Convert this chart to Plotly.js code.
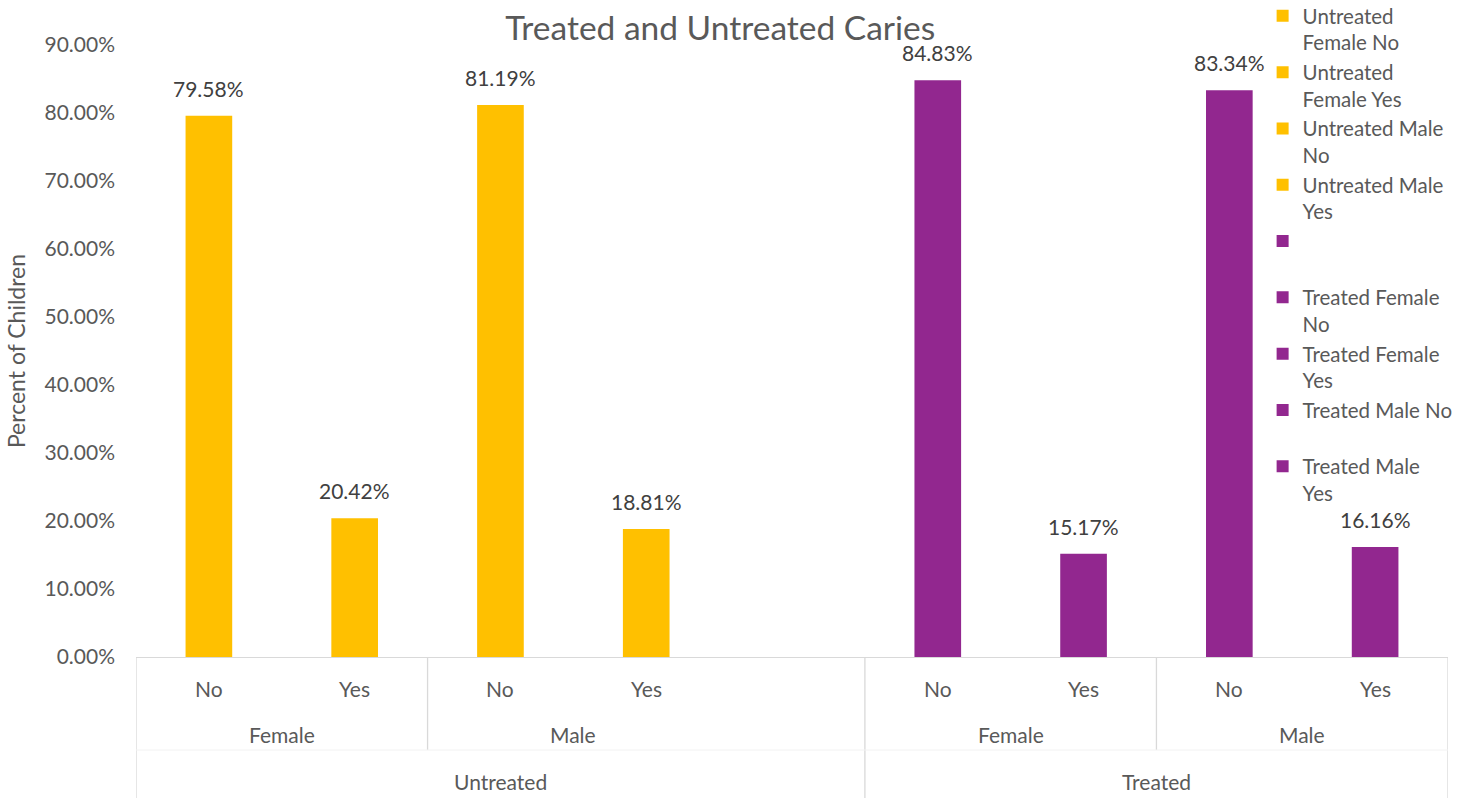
<!DOCTYPE html>
<html><head><meta charset="utf-8">
<script src="https://cdn.plot.ly/plotly-3.0.1.min.js"></script>
<style>html,body{margin:0;padding:0;background:#fff;} #chart{width:1482px;height:798px;}</style>
</head><body><div id="chart"></div>
<script>
const chartTitle = 'Treated and Untreated Caries';
const yAxisTitle = 'Percent of Children';
const statusGroups = ['Untreated', 'Treated'];
const sexGroups = ['Female', 'Male'];
const answers = ['No', 'Yes'];
const untreatedValues = [79.58, 20.42, 81.19, 18.81];
const treatedValues = [84.83, 15.17, 83.34, 16.16];
const legendNames = ['Untreated<br>Female No', 'Untreated<br>Female Yes', 'Untreated Male<br>No', 'Untreated Male<br>Yes',
                     ' <br> ',
                     'Treated Female<br>No', 'Treated Female<br>Yes', 'Treated Male No<br> ', 'Treated Male<br>Yes'];
const seriesColors = ['#FFC000', '#92278F'];

const FONT = 'Lato, "Open Sans", sans-serif';
const textGrey = '#595959';
const lineGrey = '#D9D9D9';
const valuesByStatus = [untreatedValues, treatedValues];

// slot layout: untreated 0..3, empty slot 4, treated 5..8
const statusBase = [0, 5];
const statusSpan = [[-0.5, 4.5], [4.5, 8.5]];
const traces = [];
const annotations = [];
const shapes = [];
let nameIdx = 0;

statusGroups.forEach((st, s) => {
  if (s === 1) {
    // blank series (empty slot)
    traces.push({type: 'bar', x: [4], y: [null], name: legendNames[nameIdx++], width: 0.32,
      marker: {color: seriesColors[1]}, hoverinfo: 'skip'});
  }
  sexGroups.forEach((sx, i) => {
    answers.forEach((a, j) => {
      const k = i * 2 + j;
      const slot = statusBase[s] + k;
      const v = valuesByStatus[s][k];
      traces.push({type: 'bar', x: [slot], y: [v], name: legendNames[nameIdx++], width: 0.32,
        marker: {color: seriesColors[s]}});
      annotations.push({x: slot, y: v, xref: 'x', yref: 'y', text: v.toFixed(2) + '%', showarrow: false,
        yanchor: 'bottom', yshift: 13, font: {family: FONT, size: 21, color: '#404040'}});
      annotations.push({x: slot, y: 0, xref: 'x', yref: 'paper', text: a, showarrow: false,
        yanchor: 'middle', yshift: -31, font: {family: FONT, size: 21, color: textGrey}});
    });
    annotations.push({x: statusBase[s] + i * 2 + 0.5, y: 0, xref: 'x', yref: 'paper', text: sx, showarrow: false,
      yanchor: 'middle', yshift: -77, font: {family: FONT, size: 21, color: textGrey}});
    if (i === 0) {
      shapes.push({type: 'line', xref: 'x', yref: 'paper', x0: statusBase[s] + 1.5, x1: statusBase[s] + 1.5,
        y0: 0, y1: -93 / 612, line: {color: lineGrey, width: 1.3}});
    }
  });
  annotations.push({x: (statusSpan[s][0] + statusSpan[s][1]) / 2, y: 0, xref: 'x', yref: 'paper', text: st,
    showarrow: false, yanchor: 'middle', yshift: -124, font: {family: FONT, size: 21, color: textGrey}});
  shapes.push({type: 'line', xref: 'x', yref: 'paper', x0: statusSpan[s][0], x1: statusSpan[s][0],
    y0: 0, y1: -141 / 612, line: {color: lineGrey, width: 1.3}});
});
shapes.push({type: 'line', xref: 'x', yref: 'paper', x0: 8.5, x1: 8.5, y0: 0, y1: -141 / 612,
  line: {color: lineGrey, width: 1.3}});
shapes.push({type: 'line', xref: 'x', yref: 'paper', x0: -0.5, x1: 8.5, y0: -93 / 612, y1: -93 / 612,
  line: {color: '#F2F2F2', width: 1}});

const layout = {
  width: 1482, height: 798,
  margin: {l: 136, r: 34, t: 45, b: 141, pad: 0, autoexpand: false},
  paper_bgcolor: '#FFFFFF', plot_bgcolor: '#FFFFFF',
  font: {family: FONT, size: 21, color: textGrey},
  title: {text: chartTitle, x: 0.486, xref: 'container', xanchor: 'center', y: 1 - 28 / 798, yref: 'container',
    yanchor: 'middle', font: {family: FONT, size: 33.5, color: textGrey}},
  barmode: 'overlay',
  showlegend: true,
  legend: {x: 0.8587, xref: 'paper', xanchor: 'left', y: 1 + 49 / 612, yref: 'paper', yanchor: 'top',
    valign: 'top', bgcolor: 'rgba(0,0,0,0)', maxheight: 798,
    font: {family: FONT, size: 20.5, color: textGrey}, traceorder: 'normal'},
  xaxis: {range: [-0.5, 8.5], showticklabels: false, showgrid: false, zeroline: false,
    showline: true, linecolor: lineGrey, linewidth: 1.3, ticks: '', fixedrange: true},
  yaxis: {range: [0, 90], dtick: 10, tick0: 0, tickformat: '.2f', ticksuffix: '%', showgrid: false,
    zeroline: false, showline: false, ticks: '', ticklabelstandoff: 20,
    tickfont: {family: FONT, size: 21, color: textGrey},
    title: {text: yAxisTitle, standoff: 12, font: {family: FONT, size: 23, color: textGrey}}},
  shapes: shapes,
  annotations: annotations
};

Plotly.newPlot('chart', traces, layout, {displayModeBar: false, staticPlot: true});
</script>
</body></html>
